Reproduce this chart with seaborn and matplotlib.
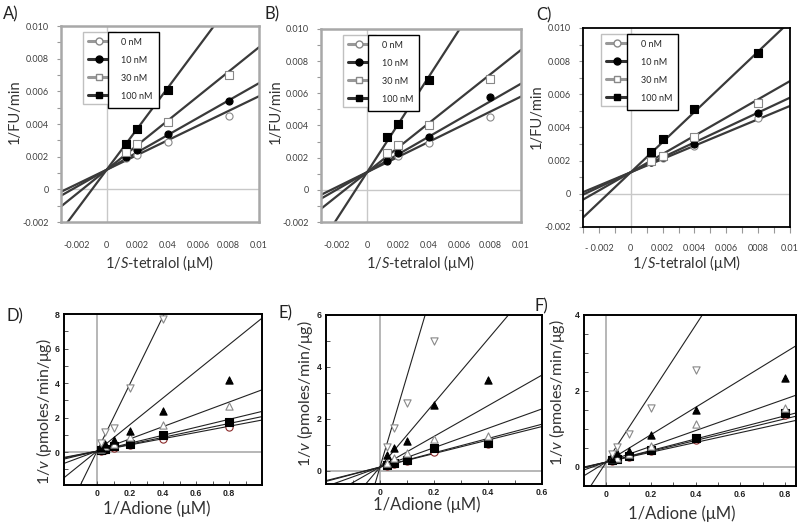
import numpy as np
import pandas as pd
import seaborn as sns
import matplotlib.pyplot as plt
from matplotlib.lines import Line2D
from matplotlib.ticker import MultipleLocator, FixedLocator

# Dados: gráficos duplo-recíprocos (Lineweaver-Burk)
tet_x = [0.0013, 0.002, 0.004, 0.008]
conc = ['0 nM', '10 nM', '30 nM', '100 nM']

a_0nm = [0.0019, 0.0021, 0.0029, 0.0045]
a_10nm = [0.0020, 0.0024, 0.0034, 0.0054]
a_30nm = [0.0023, 0.0028, 0.0041, 0.0070]
a_100nm = [0.0028, 0.0037, 0.0061, np.nan]
a_slopes = [0.45, 0.53, 0.75, 1.25]
a_icpt = 0.0012

b_0nm = [0.0021, 0.0021, 0.0029, 0.0045]
b_10nm = [0.0018, 0.0023, 0.0033, 0.0058]
b_30nm = [0.0023, 0.0028, 0.0040, 0.0069]
b_100nm = [0.0033, 0.0041, 0.0068, np.nan]
b_slopes = [0.47, 0.55, 0.76, 1.48]
b_icpt = 0.0011

c_0nm = [0.0019, 0.00215, 0.0029, 0.0046]
c_10nm = [0.0019, 0.0022, 0.0030, 0.0049]
c_30nm = [0.0020, 0.0023, 0.0034, 0.0055]
c_100nm = [0.0025, 0.0033, 0.0051, 0.0085]
c_slopes = [0.40, 0.45, 0.55, 0.91]
c_icpt = 0.0013

tet_ticks = [-0.002, 0, 0.002, 0.004, 0.006, 0.008, 0.010]
ab_xlabels = ['-0.002', '0', '0.002', '0.04', '0.006', '0.008', '0.01']
c_xlabels = ['- 0.002', '0', '0.002', '0.004', '0.006', '0008', '0.01']
fu_ticks = [-0.002, 0, 0.002, 0.004, 0.006, 0.008, 0.010]
fu_labels = ['-0.002', '0', '0.002', '0.004', '0.006', '0.008', '0.010']

# 1/Adione
adi_x = [0.025, 0.05, 0.1, 0.2, 0.4, 0.8]

d_circ = [0.08, 0.15, 0.23, 0.42, 0.78, 1.46]
d_sq = [0.12, 0.20, 0.35, 0.50, 1.02, 1.73]
d_otri = [0.20, 0.35, 0.50, 0.89, 1.58, 2.66]
d_tri = [0.26, 0.50, 0.73, 1.20, 2.40, 4.16]
d_down = [0.55, 1.16, 1.40, 3.70, 7.70, np.nan]
d_slopes = [1.8, 2.0, 2.3, 3.55, 7.7, 19.5]
d_icpt = 0.06

e_circ = [0.20, 0.28, 0.40, 0.75, 1.05, np.nan]
e_sq = [0.24, 0.31, 0.42, 0.87, 1.09, np.nan]
e_otri = [0.30, 0.50, 0.70, 1.22, 1.35, np.nan]
e_tri = [0.61, 0.87, 1.14, 2.52, 3.49, np.nan]
e_down = [0.93, 1.67, 2.60, 5.00, np.nan, np.nan]
e_slopes = [2.6, 2.75, 3.73, 5.9, 12.3, 35.0]
e_icpt = 0.15

f_circ = [0.16, 0.20, 0.27, 0.42, 0.72, 1.38]
f_sq = [0.18, 0.22, 0.30, 0.45, 0.77, 1.42]
f_otri = [0.20, 0.25, 0.35, 0.56, 1.13, 1.56]
f_tri = [0.20, 0.37, 0.42, 0.85, 1.51, 2.35]
f_down = [0.35, 0.53, 0.86, 1.55, 2.54, np.nan]
f_slopes = [1.29, 1.42, 1.52, 2.07, 3.6, 9.0]
f_icpt = 0.13

sns.set_theme(style='white')
plt.rcParams['font.family'] = ['Lato', 'DejaVu Sans']
plt.rcParams['mathtext.fontset'] = 'custom'
plt.rcParams['mathtext.rm'] = 'Lato'
plt.rcParams['mathtext.it'] = 'Lato:italic'

W, H = 800, 527
fig = plt.figure(figsize=(8, 5.27), dpi=100)


def new_ax(l, t, r, b):
    return fig.add_axes([l / W, 1 - b / H, (r - l) / W, (b - t) / H])


def top_panel(box, series, slopes, icpt, xlabels, frame, xticks_on, leg_x, ylab_xy):
    ax = new_ax(*box)
    xlim = (-0.003, 0.010)
    ax.axhline(0, color='#c8c8c8', lw=1, zorder=0)
    ax.axvline(0, color='#c8c8c8', lw=1, zorder=0)
    xs = np.array(xlim)
    for m in slopes:
        sns.lineplot(x=xs, y=icpt + m * xs, ax=ax, color='#3a3a3a', lw=1.6, zorder=2)
    styles = [('o', 'white', '#888888'), ('o', 'black', 'black'),
              ('s', 'white', '#888888'), ('s', 'black', 'black')]
    for ys, (mk, fc, ec) in zip(series, styles):
        df = pd.DataFrame({'x': tet_x, 'y': ys}).dropna()
        sns.scatterplot(data=df, x='x', y='y', ax=ax, marker=mk, color=fc,
                        edgecolor=ec, linewidth=0.8, s=26, zorder=3)
    ax.set_xlim(xlim)
    ax.set_ylim(-0.002, 0.010)
    ax.xaxis.set_major_locator(FixedLocator(tet_ticks))
    ax.set_xticklabels(xlabels)
    ax.yaxis.set_major_locator(FixedLocator(fu_ticks))
    ax.set_yticklabels(fu_labels)
    ax.yaxis.set_minor_locator(MultipleLocator(0.001))
    ax.tick_params(axis='y', which='both', left=True, direction='out',
                   length=3, width=0.8, color='#999999', labelsize=6.5,
                   labelcolor='#404040', pad=6)
    if xticks_on:
        ax.xaxis.set_minor_locator(MultipleLocator(0.001))
        ax.tick_params(axis='x', which='both', bottom=True, direction='out',
                       length=4, width=0.8, color='#999999')
    ax.tick_params(axis='x', labelsize=6.5, labelcolor='#404040', pad=8)
    for sp in ax.spines.values():
        sp.set_color(frame)
        sp.set_linewidth(1.8 if frame != 'black' else 1.3)
    ax.set_xlabel('')
    ax.set_ylabel('')
    # legenda em duas caixas, como no original
    hstyle = [('o', 'white', '#888888', '#999999'), ('o', 'black', 'black', '#333333'),
              ('s', 'white', '#888888', '#999999'), ('s', 'black', 'black', '#333333')]
    handles = [Line2D([], [], marker=mk, markerfacecolor=fc, markeredgecolor=ec,
                      color=lc, lw=2.2, markersize=5) for mk, fc, ec, lc in hstyle]
    leg1 = ax.legend(handles, [''] * 4, loc='upper left', bbox_to_anchor=(leg_x - 0.125, 0.968),
                     fontsize=6.5, handlelength=2.6, handletextpad=0, labelspacing=1.0,
                     borderpad=0.5, borderaxespad=0, fancybox=False, edgecolor='#c0c0c0',
                     framealpha=1)
    ax.add_artist(leg1)
    blank = [Line2D([], [], lw=0) for _ in conc]
    leg2 = ax.legend(blank, conc, loc='upper left', bbox_to_anchor=(leg_x, 0.97),
                     fontsize=6.5, handlelength=0.5, handletextpad=0.3, labelspacing=1.0,
                     borderpad=0.7, borderaxespad=0, fancybox=False, edgecolor='black',
                     framealpha=1)
    leg2.get_frame().set_linewidth(1.0)
    cx = (box[0] + box[2]) / 2
    fig.text(cx / W, 1 - 263 / H, '1/$S$-tetralol (μM)', ha='center', va='center',
             fontsize=10.5, color='#333333')
    fig.text(ylab_xy[0] / W, 1 - ylab_xy[1] / H, '1/FU/min', rotation=90,
             ha='center', va='center', fontsize=10.5, color='#333333')
    return ax


def bottom_panel(box, series, slopes, icpt, xlim, ylim, xmaj, ymaj, ymin, xlab_xy, ylab_xy):
    ax = new_ax(*box)
    ax.axhline(0, color='#aaaaaa', lw=1.2, zorder=0)
    ax.axvline(0, color='#aaaaaa', lw=1.2, zorder=0)
    xs = np.array(xlim)
    for m in slopes:
        sns.lineplot(x=xs, y=icpt + m * xs, ax=ax, color='#222222', lw=0.8, zorder=2)
    styles = [('o', 'white', '#8a2a2a'), ('s', 'black', 'black'),
              ('^', 'white', '#888888'), ('^', 'black', 'black'),
              ('v', 'white', '#888888')]
    for ys, (mk, fc, ec) in zip(series, styles):
        df = pd.DataFrame({'x': adi_x, 'y': ys}).dropna()
        sns.scatterplot(data=df, x='x', y='y', ax=ax, marker=mk, color=fc,
                        edgecolor=ec, linewidth=0.8, s=27, zorder=3)
    ax.set_xlim(xlim)
    ax.set_ylim(ylim)
    ax.xaxis.set_major_locator(FixedLocator(xmaj))
    ax.set_xticklabels(['0' if v == 0 else f'{v:.1f}' for v in xmaj])
    ax.xaxis.set_minor_locator(MultipleLocator(0.1))
    ax.yaxis.set_major_locator(FixedLocator(ymaj))
    ax.set_yticklabels([str(v) for v in ymaj])
    ax.yaxis.set_minor_locator(MultipleLocator(ymin))
    ax.tick_params(which='both', direction='in', left=True, bottom=True,
                   length=3, width=0.7, color='#555555')
    ax.tick_params(labelsize=6.3, labelcolor='#222222', pad=3)
    for lab in ax.get_xticklabels() + ax.get_yticklabels():
        lab.set_fontweight('bold')
        lab.set_family(['Liberation Sans', 'DejaVu Sans'])
    for sp in ax.spines.values():
        sp.set_color('black')
        sp.set_linewidth(1.4)
    ax.set_xlabel('')
    ax.set_ylabel('')
    fig.text(xlab_xy[0] / W, 1 - xlab_xy[1] / H, '1/Adione (μM)', ha='center',
             va='center', fontsize=12, color='#333333')
    fig.text(ylab_xy[0] / W, 1 - ylab_xy[1] / H, '1/$v$ (pmoles/min/μg)',
             rotation=90, ha='center', va='center', fontsize=11.5, color='#333333')
    return ax


top_panel((61, 26, 259, 222), [a_0nm, a_10nm, a_30nm, a_100nm], a_slopes, a_icpt,
          ab_xlabels, '#a8a8a8', False, 0.237, (15, 112))
top_panel((321, 29, 521, 222), [b_0nm, b_10nm, b_30nm, b_100nm], b_slopes, b_icpt,
          ab_xlabels, '#a8a8a8', False, 0.235, (276, 112))
top_panel((583, 28, 790, 227), [c_0nm, c_10nm, c_30nm, c_100nm], c_slopes, c_icpt,
          c_xlabels, 'black', True, 0.213, (537, 117))

bottom_panel((64, 314, 262, 485), [d_circ, d_sq, d_otri, d_tri, d_down], d_slopes, d_icpt,
             (-0.2, 1.0), (-1.9, 8), [0, 0.2, 0.4, 0.6, 0.8], [0, 2, 4, 6, 8], 1,
             (157, 509), (44, 412))
bottom_panel((326, 315, 542, 484), [e_circ, e_sq, e_otri, e_tri, e_down], e_slopes, e_icpt,
             (-0.2, 0.6), (-0.5, 6), [0, 0.2, 0.4, 0.6], [0, 2, 4, 6], 1,
             (427, 505), (305, 394))
bottom_panel((584, 315, 796, 486), [f_circ, f_sq, f_otri, f_tri, f_down], f_slopes, f_icpt,
             (-0.1, 0.85), (-0.5, 4), [0, 0.2, 0.4, 0.6, 0.8], [0, 2, 4], 0.5,
             (682, 514), (557, 393))

for letter, (x, y) in zip(['A)', 'B)', 'C)', 'D)', 'E)', 'F)'],
                          [(3, 14), (264, 14), (536, 15), (6, 316), (278, 313), (534, 306)]):
    fig.text(x / W, 1 - y / H, letter, ha='left', va='center', fontsize=12, color='#222222')

fig.savefig('out.png', dpi=100)
